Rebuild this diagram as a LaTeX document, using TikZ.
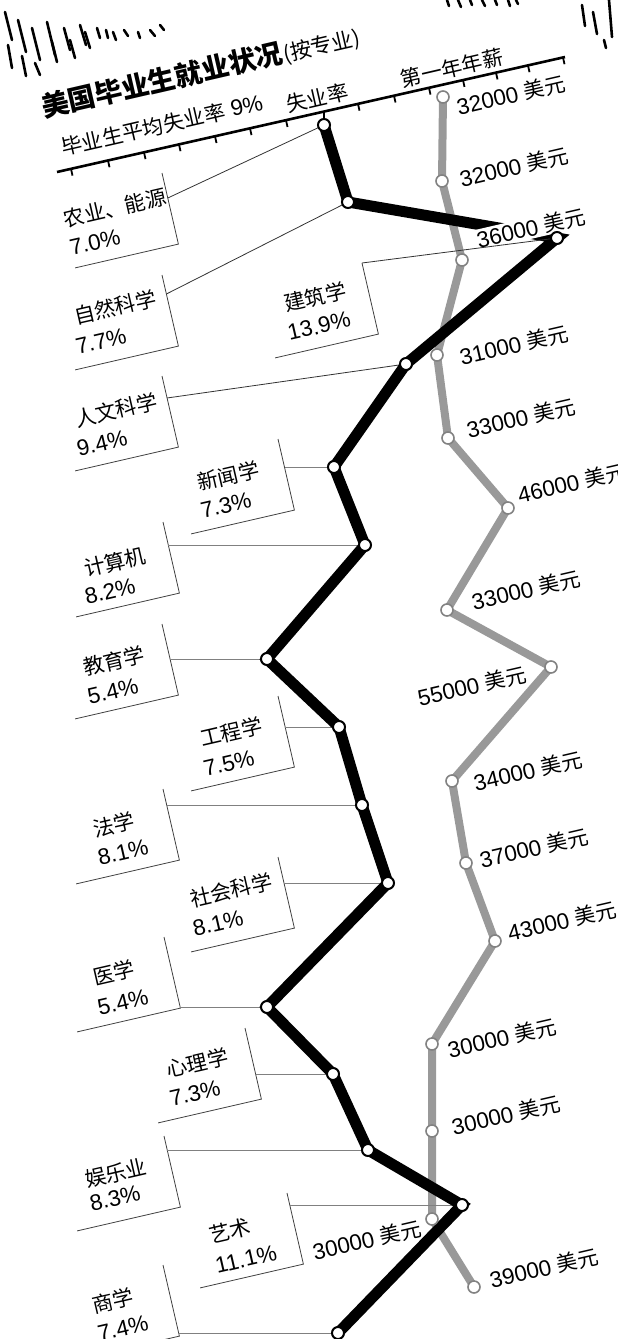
\documentclass[tikz,border=0pt]{standalone}
\usepackage{fontspec}
\setmainfont{Liberation Sans}
\newfontfamily\cjk{Noto Sans CJK SC}[Scale=0.93]
\usetikzlibrary{calc}
\definecolor{salgray}{gray}{0.6}
\definecolor{leadgray}{gray}{0.5}
\tikzset{
  lbl/.style={rotate=13, inner sep=0pt, font=\fontsize{22.5}{26}\selectfont},
  sal/.style={rotate=13, inner sep=1pt, font=\fontsize{22.5}{26}\selectfont},
  hdr/.style={rotate=13, inner sep=0pt, font=\fontsize{22.5}{26}\selectfont},
  blk/.style={line width=11pt, line join=miter, miter limit=20},
  gry/.style={line width=8pt, draw=salgray, line join=miter, miter limit=20},
  bdot/.style={circle, draw=black, fill=white, line width=2pt, minimum size=12pt, inner sep=0pt},
  gdot/.style={circle, draw=salgray!85!black, fill=white, line width=1.6pt, minimum size=12pt, inner sep=0pt},
  bracket/.style={draw=black!75, line width=0.8pt},
  leader/.style={draw=leadgray, line width=0.9pt},
  slead/.style={draw=black!80, line width=0.8pt},
  scrib/.style={line width=2.6pt, line cap=round},
  tick/.style={line width=1.8pt},
}
\begin{document}
\begin{tikzpicture}[x=1pt,y=-1pt]
\useasboundingbox (0,0) rectangle (618,1339);

% --- scribbles (torn paper edge) ---
\foreach \a/\b/\c/\d in {5/12/12/40, 8/45/12/68, 18/20/26/52, 22/56/26/76, 32/28/40/60, 35/63/40/75,
  47/22/55/55, 52/42/57/62, 64/28/70/50, 70/40/75/58, 80/25/86/45, 85/32/90/48, 97/28/100/38,
  106/30/108/38, 113/32/116/40, 124/30/128/36, 138/32/140/38, 150/30/155/36, 160/25/164/30,
  447/0/449/6, 458/0/461/7, 470/0/472/5, 482/0/485/6, 495/0/497/5, 508/0/510/6, 516/0/518/4,
  582/5/585/26, 593/12/597/34, 609/0/612/37, 604/40/606/48}
  \draw[scrib] (\a,\b) -- (\c,\d);

% --- header ---
\node[hdr, font=\fontsize{29.5}{32}\selectfont] (title) at (162,80) {\cjk\bfseries 美国毕业生就业状况};
\node[hdr, anchor=base west, font=\fontsize{23}{25}\selectfont] (sub) at (title.base east) {\cjk (按专业)};
\node[hdr] (avg) at (162,125) {{\cjk 毕业生平均失业率} 9\%};
\node[hdr] (unemp) at (317,98) {\cjk 失业率};
\node[hdr] (salary) at (452,68) {\cjk 第一年年薪};

% --- axis ---
\coordinate (axL) at (57,172);
\coordinate (axR) at (565,57);
\draw[line width=2.6pt] (axL) -- (axR);
\foreach \x in {71,108,144,179,215,250,286,358,394,429,463,496,528,563}
  \draw[tick] (\x,{172-0.2264*(\x-57)}) -- ++(1.5,6.8);
\coordinate (t1) at (324,{172-0.2264*(324-57)});

% --- data points ---
\coordinate (P1) at (324,125);
\coordinate (P2) at (348,202);
\coordinate (P3) at (557,238);
\coordinate (P4) at (406,364);
\coordinate (P5) at (334,467);
\coordinate (P6) at (365,545);
\coordinate (P7) at (267,659);
\coordinate (P8) at (339,727);
\coordinate (P9) at (362,805);
\coordinate (P10) at (388,883);
\coordinate (P11) at (267,1007);
\coordinate (P12) at (333,1074);
\coordinate (P13) at (368,1150);
\coordinate (P14) at (462,1205);
\coordinate (P15) at (338,1333);

\coordinate (G1) at (443,97);
\coordinate (G2) at (442,181);
\coordinate (G3) at (462,260);
\coordinate (G4) at (437,355);
\coordinate (G5) at (448,438);
\coordinate (G6) at (508,508);
\coordinate (G7) at (447,610);
\coordinate (G8) at (551,667);
\coordinate (G9) at (452,781);
\coordinate (G10) at (466,863);
\coordinate (G11) at (495,941);
\coordinate (G12) at (432,1044);
\coordinate (G13) at (432,1131);
\coordinate (G14) at (432,1219);
\coordinate (G15) at (474,1287);

\draw[tick] (t1) -- (P1);

% --- brackets ---
\foreach \n/\x/\y in {1/162/173, 2/162/275, 3/162/376, 4/362/263, 5/278/439, 6/163/522, 7/162/624,
  8/278/696, 9/163/789, 10/278/857, 11/164/937, 12/245/1028, 13/164/1136, 14/287/1193, 15/163/1265}
  \draw[bracket] (\x,\y) coordinate (B\n) -- ++(16.4,71.1) -- ++(-103.3,23.8);

% --- major labels ---
\node[lbl] (n1) at (115,208) {\cjk 农业、能源};
\node[lbl] (v1) at (95,242) {7.0\%};
\node[lbl] (n2) at (115,307) {\cjk 自然科学};
\node[lbl] (v2) at (101,341) {7.7\%};
\node[lbl] (n3) at (116,410) {\cjk 人文科学};
\node[lbl] (v3) at (102,443) {9.4\%};
\node[lbl] (n4) at (315,297) {\cjk 建筑学};
\node[lbl] (v4) at (319,326) {13.9\%};
\node[lbl] (n5) at (228,476) {\cjk 新闻学};
\node[lbl] (v5) at (226,505) {7.3\%};
\node[lbl] (n6) at (115,562) {\cjk 计算机};
\node[lbl] (v6) at (110,591) {8.2\%};
\node[lbl] (n7) at (114,661) {\cjk 教育学};
\node[lbl] (v7) at (113,691) {5.4\%};
\node[lbl] (n8) at (231,732) {\cjk 工程学};
\node[lbl] (v8) at (229,763) {7.5\%};
\node[lbl] (n9) at (114,825) {\cjk 法学};
\node[lbl] (v9) at (123,852) {8.1\%};
\node[lbl] (n10) at (231,890) {\cjk 社会科学};
\node[lbl] (v10) at (218,923) {8.1\%};
\node[lbl] (n11) at (114,973) {\cjk 医学};
\node[lbl] (v11) at (123,1002) {5.4\%};
\node[lbl] (n12) at (197,1063) {\cjk 心理学};
\node[lbl] (v12) at (195,1093) {7.3\%};
\node[lbl] (n13) at (116,1173) {\cjk 娱乐业};
\node[lbl] (v13) at (115,1198) {8.3\%};
\node[lbl] (n14) at (230,1231) {\cjk 艺术};
\node[lbl] (v14) at (246,1259) {11.1\%};
\node[lbl] (n15) at (113,1301) {\cjk 商学};
\node[lbl] (v15) at (123,1328) {7.4\%};

% --- salary line ---
\draw[gry] (G1) -- (G2) -- (G3) -- (G4) -- (G5) -- (G6) -- (G7) -- (G8) -- (G9) -- (G10)
  -- (G11) -- (G12) -- (G13) -- (G14) -- (G15);

% --- leaders ---
\coordinate (L1) at (167.8,198);
\coordinate (L2) at (166.4,294);
\coordinate (L3) at (167,398);
\coordinate (L5) at (284.5,467);
\coordinate (L6) at (168.3,545);
\coordinate (L7) at (170,659);
\coordinate (L8) at (285,727);
\coordinate (L9) at (166.7,805);
\coordinate (L10) at (284,883);
\coordinate (L11) at (180,1007);
\coordinate (L12) at (255.6,1074);
\coordinate (L13) at (167.2,1150);
\coordinate (L14) at (290,1205);
\coordinate (L15) at (178.6,1333);
\draw[slead] (L1) -- (P1);
\draw[slead] (L2) -- (P2);
\draw[slead] (L3) -- (P4);
\draw[leader] (L5) -- (P5);
\draw[leader] (L6) -- (P6);
\draw[leader] (L7) -- (P7);
\draw[leader] (L8) -- (P8);
\draw[leader] (L9) -- (P9);
\draw[leader] (L10) -- (P10);
\draw[leader] (L11) -- (P11);
\draw[leader] (L12) -- (P12);
\draw[leader] (L13) -- (P13);
\draw[leader] (L14) -- (P14);
\draw[leader] (L15) -- (P15);

% --- unemployment line ---
\draw[blk] (P1) -- (P2) -- (P3) -- (P4) -- (P5) -- (P6) -- (P7) -- (P8) -- (P9) -- (P10)
  -- (P11) -- (P12) -- (P13) -- (P14) -- (P15);

% --- salary labels ---
\node[sal] (s1) at (511,95) {32000 {\cjk 美元}};
\node[sal] (s2) at (514,167) {32000 {\cjk 美元}};
\node[sal, fill=white] (s3) at (531,228) {36000 {\cjk 美元}};
\node[sal] (s4) at (514,345) {31000 {\cjk 美元}};
\node[sal] (s5) at (521,418) {33000 {\cjk 美元}};
\node[sal] (s6) at (572,483) {46000 {\cjk 美元}};
\node[sal] (s7) at (526,590) {33000 {\cjk 美元}};
\node[sal] (s8) at (472,686) {55000 {\cjk 美元}};
\node[sal] (s9) at (528,771) {34000 {\cjk 美元}};
\node[sal] (s10) at (534,848) {37000 {\cjk 美元}};
\node[sal] (s11) at (562,921) {43000 {\cjk 美元}};
\node[sal] (s12) at (502,1038) {30000 {\cjk 美元}};
\node[sal] (s13) at (506,1115) {30000 {\cjk 美元}};
\node[sal] (s14) at (367,1240) {30000 {\cjk 美元}};
\node[sal] (s15) at (544,1268) {39000 {\cjk 美元}};

\draw[slead] (B4) -- (P3);

% --- points ---
\foreach \i in {1,...,15} \node[gdot] (g\i) at (G\i) {};
\foreach \i in {1,...,15} \node[bdot] (p\i) at (P\i) {};
\end{tikzpicture}
\end{document}
